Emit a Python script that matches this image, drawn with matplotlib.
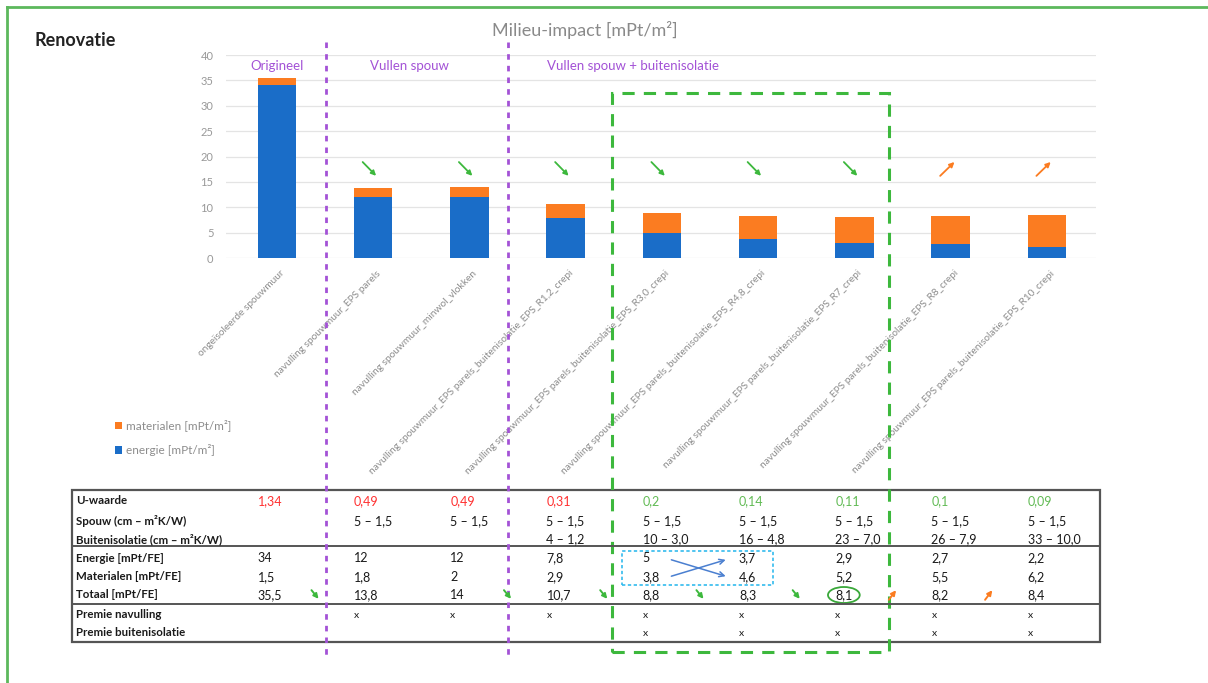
import matplotlib
matplotlib.use('Agg')
import matplotlib.pyplot as plt
from matplotlib.lines import Line2D
from matplotlib.patches import Rectangle, Ellipse
from matplotlib.text import Annotation
from matplotlib.transforms import blended_transform_factory, ScaledTranslation

plt.rcParams['font.family'] = ['Lato', 'DejaVu Sans']

W, H = 1208, 683

# --- data ---
varianten = [
    'ongeïsoleerde spouwmuur',
    'navulling spouwmuur_EPS parels',
    'navulling spouwmuur_minwol_vlokken',
    'navulling spouwmuur_EPS parels_buitenisolatie_EPS_R1,2_crepi',
    'navulling spouwmuur_EPS parels_buitenisolatie_EPS_R3,0_crepi',
    'navulling spouwmuur_EPS parels_buitenisolatie_EPS_R4,8_crepi',
    'navulling spouwmuur_EPS parels_buitenisolatie_EPS_R7_crepi',
    'navulling spouwmuur_EPS parels_buitenisolatie_EPS_R8_crepi',
    'navulling spouwmuur_EPS parels_buitenisolatie_EPS_R10_crepi',
]
energie = [34, 12, 12, 7.8, 5, 3.7, 2.9, 2.7, 2.2]
materialen = [1.5, 1.8, 2, 2.9, 3.8, 4.6, 5.2, 5.5, 6.2]

groepen = ['Origineel', 'Vullen spouw', 'Vullen spouw + buitenisolatie']

# pijltjes boven de staven: 1 = daling, -1 = stijging, 0 = geen
trend_staaf = [0, 1, 1, 1, 1, 1, 1, -1, -1]
# pijltjes in de rij Totaal (overgang na kolom i)
trend_totaal_na = [0, 2, 3, 4, 5, 6, 7]
trend_totaal = [1, 1, 1, 1, 1, -1, -1]

tabel_labels = ['U-waarde', 'Spouw (cm – m²K/W)', 'Buitenisolatie (cm – m²K/W)',
                'Energie [mPt/FE]', 'Materialen [mPt/FE]', 'Totaal [mPt/FE]',
                'Premie navulling', 'Premie buitenisolatie']
u_waarde = ['1,34', '0,49', '0,49', '0,31', '0,2', '0,14', '0,11', '0,1', '0,09']
spouw = ['', '5 – 1,5', '5 – 1,5', '5 – 1,5', '5 – 1,5', '5 – 1,5', '5 – 1,5', '5 – 1,5', '5 – 1,5']
buitenisolatie = ['', '', '', '4 – 1,2', '10 – 3,0', '16 – 4,8', '23 – 7,0', '26 – 7,9', '33 – 10,0']
energie_fe = ['34', '12', '12', '7,8', '5', '3,7', '2,9', '2,7', '2,2']
materialen_fe = ['1,5', '1,8', '2', '2,9', '3,8', '4,6', '5,2', '5,5', '6,2']
totaal_fe = ['35,5', '13,8', '14', '10,7', '8,8', '8,3', '8,1', '8,2', '8,4']
premie_navulling = ['', 'x', 'x', 'x', 'x', 'x', 'x', 'x', 'x']
premie_buitenisolatie = ['', '', '', '', 'x', 'x', 'x', 'x', 'x']

BLAUW = '#1a6dc8'
ORANJE = '#fb7c21'
PAARS = '#a352d6'
GROEN = '#3db83d'
GRIJS = '#8c8c8c'


def fx(px):
    return px / W


def fy(py):
    return 1 - py / H


fig = plt.figure(figsize=(W / 100, H / 100), dpi=100)
ax = fig.add_axes([fx(226), fy(258), fx(1096) - fx(226), fy(55) - fy(258)])

x = list(range(len(varianten)))
b_en = ax.bar(x, energie, width=0.4, color=BLAUW, label='energie [mPt/m²]', zorder=3)
b_mat = ax.bar(x, materialen, width=0.4, bottom=energie, color=ORANJE,
               label='materialen [mPt/m²]', zorder=3)

ax.set_xlim(-0.53, 8.51)
ax.set_ylim(0, 40)
ax.set_yticks(range(0, 41, 5))
ax.grid(axis='y', color='#e4e4e4', lw=0.9, zorder=0)
for s in ax.spines.values():
    s.set_visible(False)
ax.tick_params(axis='y', length=0, pad=9, labelsize=8, labelcolor='#999999')
ax.tick_params(axis='x', length=0, pad=10)
ax.set_xticks(x)
ax.set_xticklabels(varianten, rotation=45, ha='right', va='center',
                   rotation_mode='anchor', fontsize=7.3, color=GRIJS)
for lbl in ax.get_xticklabels():
    lbl.set_transform(lbl.get_transform() + ScaledTranslation(0.06, 0, fig.dpi_scale_trans))

# groepstitels
for naam, xpos in zip(groepen, [0, 1.38, 3.7]):
    ax.text(xpos, 37.8, naam, ha='center', va='center', fontsize=9.5, color=PAARS)

# trendpijlen boven de staven
for i, t in enumerate(trend_staaf):
    if t == 1:
        ax.annotate('', xy=(i + 0.05, 15.8), xytext=(i - 0.13, 19.3),
                    arrowprops=dict(arrowstyle='-|>', color=GROEN, lw=1.3,
                                    mutation_scale=7), zorder=4)
    elif t == -1:
        ax.annotate('', xy=(i + 0.06, 19.3), xytext=(i - 0.13, 15.8),
                    arrowprops=dict(arrowstyle='-|>', color=ORANJE, lw=1.3,
                                    mutation_scale=7), zorder=4)

fig.text(fx(585), fy(30), 'Milieu-impact [mPt/m²]', ha='center', va='center',
         fontsize=13, color='#8a8a8a')
fig.text(fx(35), fy(40), 'Renovatie', ha='left', va='center', fontsize=13,
         fontweight='bold', color='#222222')

fig.legend(handles=[b_mat, b_en], loc='upper left', bbox_to_anchor=(fx(104), fy(409)),
           frameon=False, fontsize=8.5, labelcolor=GRIJS, handlelength=0.6,
           handleheight=0.6, handletextpad=0.4, labelspacing=1.05)

tr = blended_transform_factory(ax.transData, fig.transFigure)

# tabel
rij_y = [501, 521, 539, 558, 577, 595, 615, 633]
rijen = [u_waarde, spouw, buitenisolatie, energie_fe, materialen_fe, totaal_fe,
         premie_navulling, premie_buitenisolatie]
for lab, ry in zip(tabel_labels, rij_y):
    fig.text(fx(76), fy(ry), lab, ha='left', va='center', fontsize=8.3,
             fontweight='bold', color='#1a1a1a')
for r, (waarden, ry) in enumerate(zip(rijen, rij_y)):
    for i, w in enumerate(waarden):
        kleur = '#1a1a1a'
        if r == 0:
            kleur = '#ff3030' if i < 4 else '#62bb55'
        fs = 7.5 if w == 'x' else 9
        fig.text(i - 0.2, fy(ry), w, transform=tr, ha='left', va='center',
                 fontsize=fs, color=kleur)

for ly in [546, 604]:
    fig.add_artist(Line2D([fx(72), fx(1100)], [fy(ly), fy(ly)], color='#555555', lw=1.4))
fig.add_artist(Rectangle((fx(72), fy(642)), fx(1100) - fx(72), fy(490) - fy(642),
                         transform=fig.transFigure, fill=False, ec='#555555', lw=1.6))

# pijltjes in de rij Totaal
for i, t in zip(trend_totaal_na, trend_totaal):
    xp = i + 0.4
    if t == 1:
        start, eind, kl = (xp - 0.06, fy(588)), (xp + 0.05, fy(601)), GROEN
    else:
        start, eind, kl = (xp - 0.06, fy(602)), (xp + 0.05, fy(588)), ORANJE
    fig.add_artist(Annotation(
        '', xy=eind, xytext=start, xycoords=tr, textcoords=tr,
        arrowprops=dict(arrowstyle='-|>', color=kl, lw=1.4, mutation_scale=7)))

# verticale scheidingslijnen
for xl in [0.51, 2.4]:
    fig.add_artist(Line2D([xl, xl], [fy(42), fy(660)], transform=tr, color=PAARS,
                          lw=2, ls=(0, (2, 2.2))))

# groene kader
fig.add_artist(Rectangle((3.48, fy(652)), 6.36 - 3.48, fy(93) - fy(652), transform=tr,
                         fill=False, ec=GROEN, lw=2.2, ls=(0, (4, 3))))

# blauwe kader met kruisende pijlen
fig.add_artist(Rectangle((3.58, fy(585)), 5.15 - 3.58, fy(551) - fy(585), transform=tr,
                         fill=False, ec='#33bbee', lw=1.2, ls=(0, (2, 1.5))))
for y0, y1 in [(559, 577), (577, 559)]:
    fig.add_artist(Annotation(
        '', xy=(4.69, fy(y1)), xytext=(4.07, fy(y0)), xycoords=tr, textcoords=tr,
        arrowprops=dict(arrowstyle='->', color='#4a7fd0', lw=1.1, mutation_scale=9)))

fig.add_artist(Ellipse((5.89, fy(595)), 0.33, 16 / H, transform=tr, fill=False,
                       ec='#3aa83a', lw=1.3))

# groene rand rond de figuur
fig.add_artist(Line2D([fx(7), 1], [fy(7), fy(7)], color='#5cb85c', lw=2))
fig.add_artist(Line2D([fx(7), fx(7)], [fy(7), 0], color='#5cb85c', lw=2))

fig.savefig('out.png', dpi=100)
